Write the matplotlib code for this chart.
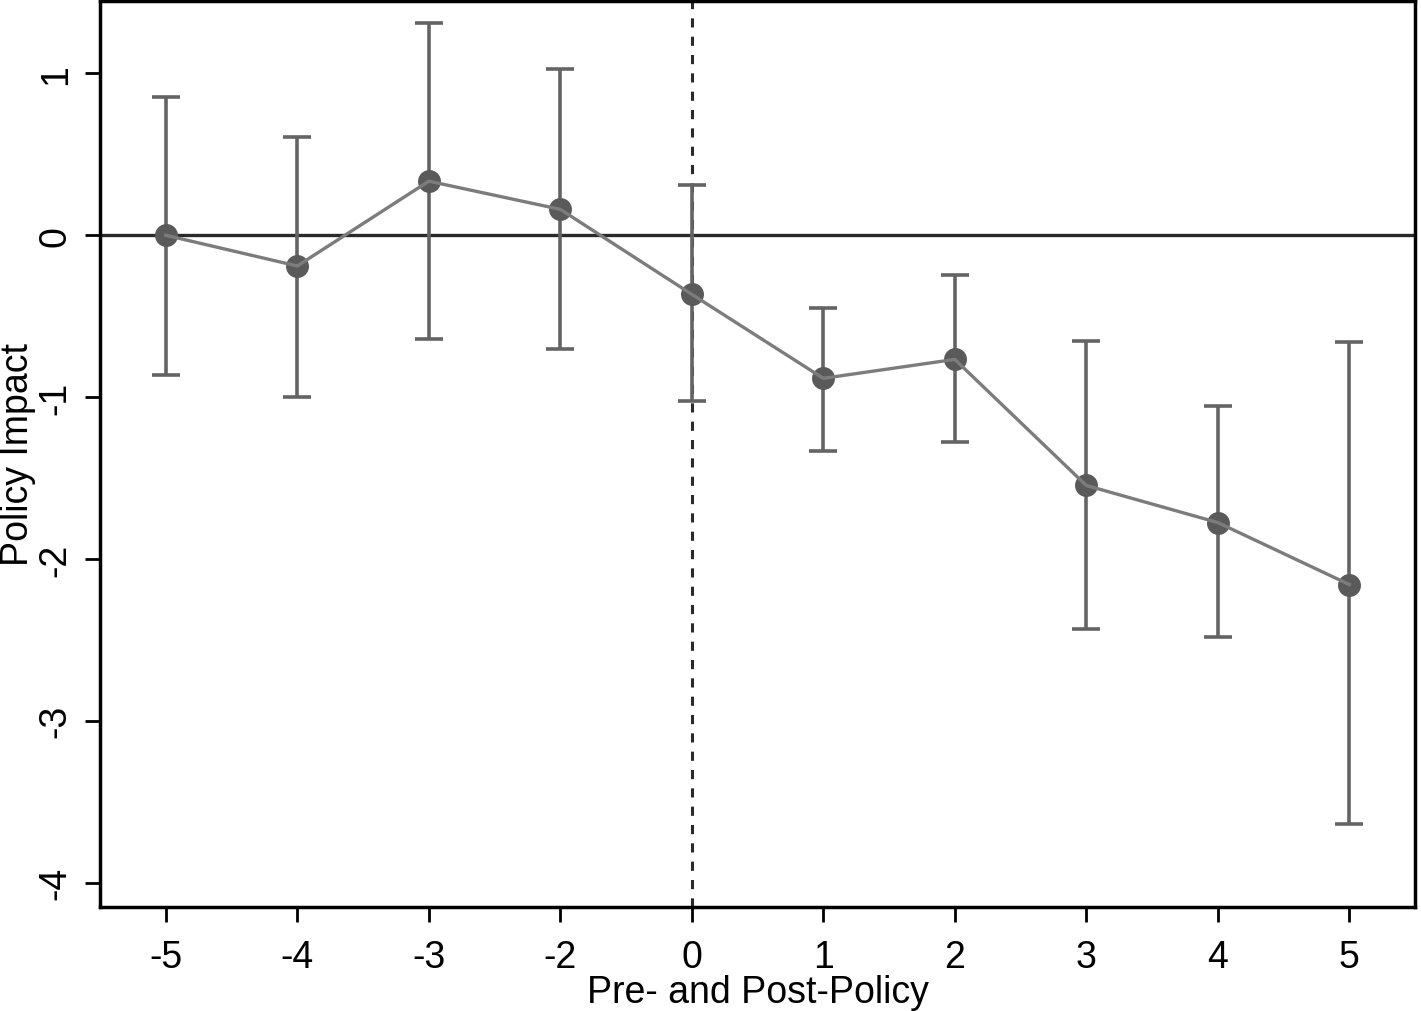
import numpy as np
import matplotlib.pyplot as plt

plt.rcParams['font.family'] = ['Liberation Sans', 'DejaVu Sans']

periods = ['-5', '-4', '-3', '-2', '0', '1', '2', '3', '4', '5']
estimate = [0.0, -0.19, 0.334, 0.16, -0.365, -0.884, -0.767, -1.546, -1.775, -2.158]
ci_upper = [0.853, 0.61, 1.31, 1.03, 0.31, -0.45, -0.247, -0.655, -1.057, -0.66]
ci_lower = [-0.866, -1.0, -0.643, -0.705, -1.027, -1.33, -1.28, -2.43, -2.48, -3.64]

x = np.arange(len(periods))
est = np.array(estimate)
yerr = [est - np.array(ci_lower), np.array(ci_upper) - est]

fig = plt.figure(figsize=(14.21, 10.12), dpi=100)
ax = fig.add_axes([0.0704, 0.1028, 0.9254, 0.8952])

ax.axhline(0, color='#2a2a2a', lw=2.4, zorder=1)
ax.axvline(4, color='#2a2a2a', lw=2.2, ls=(0, (3, 3)), zorder=1)

ax.errorbar(x, est, yerr=yerr, fmt='none', ecolor='#646464', elinewidth=2.6,
            capsize=10, capthick=2.6, zorder=2)
ax.plot(x, est, 'o', color='#5a5a5a', ms=15.5, mec='#5a5a5a', zorder=3)
ax.plot(x, est, color='#7c7c7c', lw=2.4, zorder=4)

ax.set_xlim(-0.5, 9.5)
ax.set_ylim(-4.15, 1.447)
ax.set_xticks(x)
ax.set_xticklabels(periods)
ax.set_yticks([-4, -3, -2, -1, 0, 1])
ax.set_yticklabels(['-4', '-3', '-2', '-1', '0', '1'], rotation=90, va='center')

for s in ax.spines.values():
    s.set_linewidth(2.5)
ax.tick_params(axis='both', length=11, width=2, labelsize=27)
ax.tick_params(axis='x', pad=12)
ax.tick_params(axis='y', pad=8)

ax.set_xlabel('Pre- and Post-Policy', fontsize=27, va='top')
ax.xaxis.set_label_coords(0.5, -0.074)
ax.set_ylabel('Policy Impact', fontsize=27)
ax.yaxis.set_label_coords(-0.049, 0.5)

fig.savefig('out.png', dpi=100)
